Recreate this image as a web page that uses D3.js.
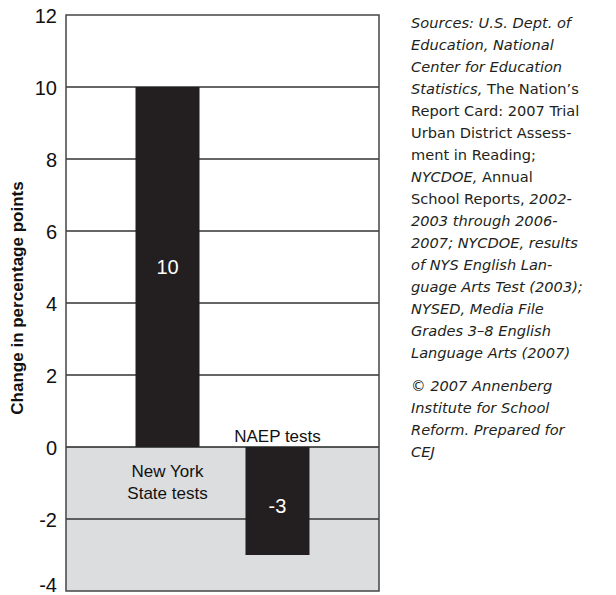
<!DOCTYPE html>
<html><head><meta charset="utf-8">
<script src="https://cdn.jsdelivr.net/npm/d3@7"></script>
<style>body{margin:0;background:#fff}svg{display:block}</style>
</head><body>
<script>
const categories = ["New York State tests", "NAEP tests"];
const values = [10, -3];
const valueLabels = ["10", "-3"];
const yTicks = [-4, -2, 0, 2, 4, 6, 8, 10, 12];
const yTitle = "Change in percentage points";
const sourceLines = [
  [["i","Sources: U.S. Dept. of"]],
  [["i","Education, National"]],
  [["i","Center for Education"]],
  [["i","Statistics,"],["r"," The Nation\u2019s"]],
  [["r","Report Card: 2007 Trial"]],
  [["r","Urban District Assess-"]],
  [["r","ment in Reading;"]],
  [["i","NYCDOE,"],["r"," Annual"]],
  [["r","School Reports, "],["i","2002-"]],
  [["i","2003 through 2006-"]],
  [["i","2007; NYCDOE, results"]],
  [["i","of NYS English Lan-"]],
  [["i","guage Arts Test (2003);"]],
  [["i","NYSED, Media File"]],
  [["i","Grades 3\u20138 English"]],
  [["i","Language Arts (2007)"]],
  null,
  [["i","\u00A9 2007 Annenberg"]],
  [["i","Institute for School"]],
  [["i","Reform. Prepared for"]],
  [["i","CEJ"]]
];

(function(){
const W = 616, H = 595;
const svg = d3.select("body").append("svg").attr("width", W).attr("height", H);
const pL = 66, pR = 379, pT = 15, pB = 591;

const y = d3.scaleLinear().domain([-4, 12]).range([pB, pT]);
const x = d3.scaleBand().domain(categories).range([pL, pR]).paddingInner(0.418).paddingOuter(0.632);

const font = "'Liberation Sans', Arial, sans-serif";

svg.append("rect").attr("x", pL).attr("y", y(0)).attr("width", pR-pL).attr("height", y(-4)-y(0)).attr("fill", "#dcdddf");

svg.append("g").selectAll("line").data(yTicks.filter(d => d !== -4 && d !== 0 && d !== 12)).join("line")
  .attr("x1", pL).attr("x2", pR).attr("y1", d => y(d)).attr("y2", d => y(d))
  .attr("stroke", "#333").attr("stroke-width", 1.4);

svg.append("g").selectAll("rect").data(categories).join("rect")
  .attr("x", d => x(d)).attr("width", x.bandwidth())
  .attr("y", (d,i) => y(Math.max(0, values[i])))
  .attr("height", (d,i) => Math.abs(y(values[i]) - y(0)))
  .attr("fill", "#231f20");

svg.append("line").attr("x1", pL).attr("x2", pR).attr("y1", y(0)).attr("y2", y(0)).attr("stroke", "#222").attr("stroke-width", 1.6);

svg.append("rect").attr("x", pL).attr("y", pT).attr("width", pR-pL).attr("height", pB-pT)
  .attr("fill", "none").attr("stroke", "#444").attr("stroke-width", 1.5);

const yAxis = d3.axisLeft(y).tickValues(yTicks).tickSize(0).tickPadding(9).tickFormat(d => String(d));
const ga = svg.append("g").attr("transform", `translate(${pL},0)`).call(yAxis);
ga.select(".domain").remove();
ga.selectAll("text").attr("font-family", font).attr("font-size", 20).attr("fill", "#111")
  .attr("dy", d => d === -4 ? "0em" : "0.35em");

svg.append("text").attr("transform", `translate(23,${(pT+pB)/2 - 5}) rotate(-90)`)
  .attr("text-anchor", "middle").attr("font-family", font).attr("font-weight", "bold").attr("font-size", 17)
  .attr("fill", "#111").text(yTitle);

svg.append("g").selectAll("text").data(categories).join("text")
  .attr("x", d => x(d) + x.bandwidth()/2)
  .attr("y", (d,i) => values[i] > 0 ? y(values[i]/2) + 7 : y(values[i]/2) + 12)
  .attr("text-anchor", "middle").attr("font-family", font).attr("font-size", 20).attr("fill", "#fff")
  .text((d,i) => valueLabels[i]);

const c0 = x(categories[0]) + x.bandwidth()/2;
const c1 = x(categories[1]) + x.bandwidth()/2;
const t0 = svg.append("text").attr("text-anchor", "middle").attr("font-family", font).attr("font-size", 17).attr("fill", "#111");
t0.append("tspan").attr("x", c0).attr("y", y(0) + 30).text("New York");
t0.append("tspan").attr("x", c0).attr("y", y(0) + 52).text("State tests");
svg.append("text").attr("x", c1).attr("y", y(0) - 5).attr("text-anchor", "middle").attr("font-family", font).attr("font-size", 17).attr("fill", "#111").text(categories[1]);

const sfont = "'DejaVu Sans', sans-serif";
const st = svg.append("g").attr("font-family", sfont).attr("font-size", 14.6).attr("fill", "#231f20");
let yy = 28;
sourceLines.forEach(line => {
  if (line === null) { yy += 11; return; }
  const t = st.append("text").attr("x", 411).attr("y", yy).attr("xml:space", "preserve");
  line.forEach(([s, txt]) => t.append("tspan").attr("font-style", s === "i" ? "italic" : "normal").text(txt));
  yy += 22;
});
})();
</script>
</body></html>
